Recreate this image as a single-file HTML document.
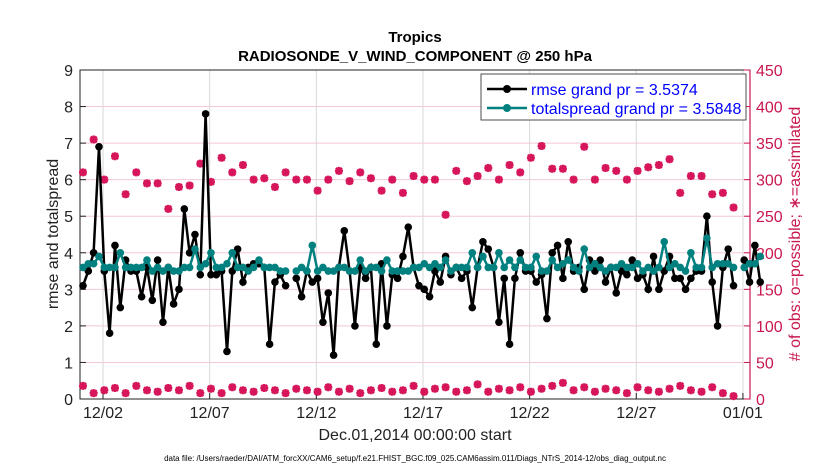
<!DOCTYPE html>
<html><head><meta charset="utf-8"><style>
body{margin:0;background:#fff;font-family:"Liberation Sans",sans-serif}
svg text{font-family:"Liberation Sans",sans-serif}
</style></head><body>
<svg id="c" width="830" height="470" xmlns="http://www.w3.org/2000/svg"></svg>
<script>
const rmse=[3.1,3.5,4.0,6.9,3.5,1.8,4.2,2.5,3.8,3.5,3.5,2.8,3.6,2.7,3.8,2.1,3.6,2.6,3.0,5.2,4.0,4.5,3.4,7.8,3.4,3.4,3.5,1.3,3.5,4.1,
3.2,3.6,3.7,3.7,3.6,1.5,3.2,3.4,3.1,null,3.3,2.8,3.5,3.2,3.3,2.1,2.9,1.2,3.6,4.6,3.5,2.0,3.6,3.3,3.6,1.5,3.7,2.0,3.4,3.3,
3.9,4.7,3.6,3.1,3.0,2.8,3.5,3.2,3.9,3.4,3.6,3.3,3.5,2.5,3.6,4.3,4.1,3.6,2.1,3.3,1.5,3.3,4.0,3.5,3.5,3.2,3.4,2.2,4.0,4.2,
3.3,4.3,3.5,3.6,3.0,3.8,3.5,3.8,3.2,3.6,2.9,3.5,3.4,3.8,3.3,3.4,3.0,3.9,3.0,3.5,3.9,3.3,3.3,3.0,3.3,3.5,3.5,5.0,3.2,2.0,
3.6,4.1,3.1,null,3.8,3.2,4.2,3.2];
const spread=[3.6,3.7,3.7,3.9,3.6,3.6,3.6,4.0,3.6,3.6,3.6,3.6,3.8,3.5,3.6,3.5,3.6,3.5,3.5,3.6,3.6,4.1,3.6,3.7,4.0,3.6,3.6,3.7,4.0,3.6,
3.6,3.5,3.6,3.8,3.6,3.6,3.6,3.5,3.5,null,3.5,3.6,3.5,4.2,3.5,3.6,3.5,3.5,3.6,3.6,3.5,3.5,3.8,3.5,3.6,3.6,3.5,3.8,3.5,3.5,
3.5,3.5,3.6,3.6,3.7,3.6,3.7,3.6,3.8,3.5,3.6,3.6,3.6,4.0,3.6,3.9,3.6,3.6,4.0,3.6,3.8,3.6,3.8,3.6,3.6,3.9,3.5,3.5,3.8,3.6,
3.7,3.8,3.6,3.5,4.1,3.6,3.7,3.6,3.5,3.6,3.6,3.7,3.6,3.6,3.7,3.5,3.6,3.5,3.6,4.3,3.6,3.7,3.6,3.5,4.0,3.6,3.6,4.4,3.6,3.7,
3.7,3.7,3.6,null,3.6,3.7,3.7,3.9];
const obsPossible=[310,355,300,332,280,310,295,295,260,290,292,322,297,330,310,320,300,302,290,310,300,300,285,300,312,298,310,302,285,300,282,305,300,300,252,312,298,305,316,300,320,310,330,346,315,315,300,345,300,316,312,300,312,317,320,328,282,305,305,280,282,262];
const obsLow=[18,8,12,15,8,18,12,10,15,12,18,8,14,8,16,12,10,15,12,8,14,12,10,16,10,14,8,12,15,10,12,18,10,14,16,10,12,20,10,14,12,16,10,14,18,22,12,16,10,14,12,8,16,12,10,14,18,12,10,16,8,4];
const xTicks=["12/02","12/07","12/12","12/17","12/22","12/27","01/01"];
const xTickDays=[1,6,11,16,21,26,31];
const yTicks=[0,1,2,3,4,5,6,7,8,9];
const yRTicks=[0,50,100,150,200,250,300,350,400,450];

const svg=document.getElementById('c');const NS='http://www.w3.org/2000/svg';
function mk(t,a,p){const e=document.createElementNS(NS,t);for(const k in a)e.setAttribute(k,a[k]);(p||svg).appendChild(e);return e;}
const L=80,R=750,T=70,B=399;
const xs=d=>81.7+d*21.33;
const yl=v=>B-v*(B-T)/9;
const yr=v=>B-v*(B-T)/450;
mk('rect',{x:0,y:0,width:830,height:470,fill:'#fff'});
yRTicks.forEach(v=>{const g=mk('line',{x1:L,x2:R,y1:yr(v),y2:yr(v),stroke:'#f2c8d8','stroke-width':1});});
xTickDays.forEach(d=>{mk('line',{x1:xs(d),x2:xs(d),y1:T,y2:B,stroke:'#d8d8d8','stroke-width':1});});
mk('rect',{x:L,y:T,width:R-L,height:B-T,fill:'none',stroke:'#222','stroke-width':1});
mk('line',{x1:R,x2:R,y1:T,y2:B,stroke:'#c8174f','stroke-width':1.2});
yTicks.forEach(v=>{mk('line',{x1:L,x2:L+6,y1:yl(v),y2:yl(v),stroke:'#222'});const t=mk('text',{x:L-7,y:yl(v)+6,'text-anchor':'end','font-size':16,fill:'#222'});t.textContent=v;});
yRTicks.forEach(v=>{mk('line',{x1:R-6,x2:R,y1:yr(v),y2:yr(v),stroke:'#c8174f'});const t=mk('text',{x:R+6,y:yr(v)+6,'font-size':16,fill:'#c8174f'});t.textContent=v;});
xTicks.forEach((s,i)=>{mk('line',{x1:xs(xTickDays[i]),x2:xs(xTickDays[i]),y1:B,y2:B-6,stroke:'#222'});const t=mk('text',{x:xs(xTickDays[i]),y:B+19,'text-anchor':'middle','font-size':16,fill:'#222'});t.textContent=s;});
function star(x,y,g){mk('path',{d:`M${x-4} ${y}H${x+4}M${x} ${y-4}V${y+4}M${x-3} ${y-3}L${x+3} ${y+3}M${x-3} ${y+3}L${x+3} ${y-3}`,stroke:'#d6155a','stroke-width':2.5},g);mk('circle',{cx:x,cy:y,r:3.3,fill:'#d6155a'},g);}
const go=mk('g',{});
obsPossible.forEach((v,i)=>star(xs(i*0.5+0.06),yr(v),go));
obsLow.forEach((v,i)=>star(xs(i*0.5+0.06),yr(v),go));
function series(arr,col,name){const g=mk('g',{});
let d='',pen=false;arr.forEach((v,i)=>{if(v===null){pen=false;return;}const x=xs(i*0.25+0.06),y=yl(v);d+=(pen?'L':'M')+x.toFixed(1)+' '+y.toFixed(1);pen=true;});
mk('path',{d:d,fill:'none',stroke:col,'stroke-width':2.5},g);
arr.forEach((v,i)=>{if(v===null)return;mk('circle',{cx:xs(i*0.25+0.06),cy:yl(v),r:3.8,fill:col},g);});}
series(rmse,'#000','rmse-series');
series(spread,'#00807f','totalspread-series');
const lg=mk('g',{});
mk('rect',{x:481,y:74,width:265,height:46,fill:'#fff',stroke:'#222','stroke-width':0.8},lg);
mk('line',{x1:487,x2:527,y1:89,y2:89,stroke:'#000','stroke-width':2.5},lg);mk('circle',{cx:507,cy:89,r:4,fill:'#000'},lg);
mk('line',{x1:487,x2:527,y1:108,y2:108,stroke:'#00807f','stroke-width':2.5},lg);mk('circle',{cx:507,cy:108,r:4,fill:'#00807f'},lg);
let t=mk('text',{x:531,y:95,'font-size':16,fill:'#0000ff'},lg);t.textContent='rmse grand pr = 3.5374';
t=mk('text',{x:531,y:114,'font-size':16,fill:'#0000ff'},lg);t.textContent='totalspread grand pr = 3.5848';
t=mk('text',{x:415,y:42,'text-anchor':'middle','font-size':15,'font-weight':'bold',fill:'#000'});t.textContent='Tropics';
t=mk('text',{x:415,y:61,'text-anchor':'middle','font-size':15,'font-weight':'bold',fill:'#000'});t.textContent='RADIOSONDE_V_WIND_COMPONENT @ 250 hPa';
t=mk('text',{x:415,y:440,'text-anchor':'middle','font-size':16,fill:'#222'});t.textContent='Dec.01,2014 00:00:00 start';
t=mk('text',{x:58,y:234,'text-anchor':'middle','font-size':16,fill:'#222',transform:'rotate(-90 58 234)'});t.textContent='rmse and totalspread';
t=mk('text',{x:800,y:234,'text-anchor':'middle','font-size':16,fill:'#c8174f',transform:'rotate(-90 800 234)'});t.textContent='# of obs: o=possible; \u2217=assimilated';
t=mk('text',{x:415,y:461,'text-anchor':'middle','font-size':8,fill:'#000'});t.textContent='data file: /Users/raeder/DAI/ATM_forcXX/CAM6_setup/f.e21.FHIST_BGC.f09_025.CAM6assim.011/Diags_NTrS_2014-12/obs_diag_output.nc';
</script>
</body></html>
